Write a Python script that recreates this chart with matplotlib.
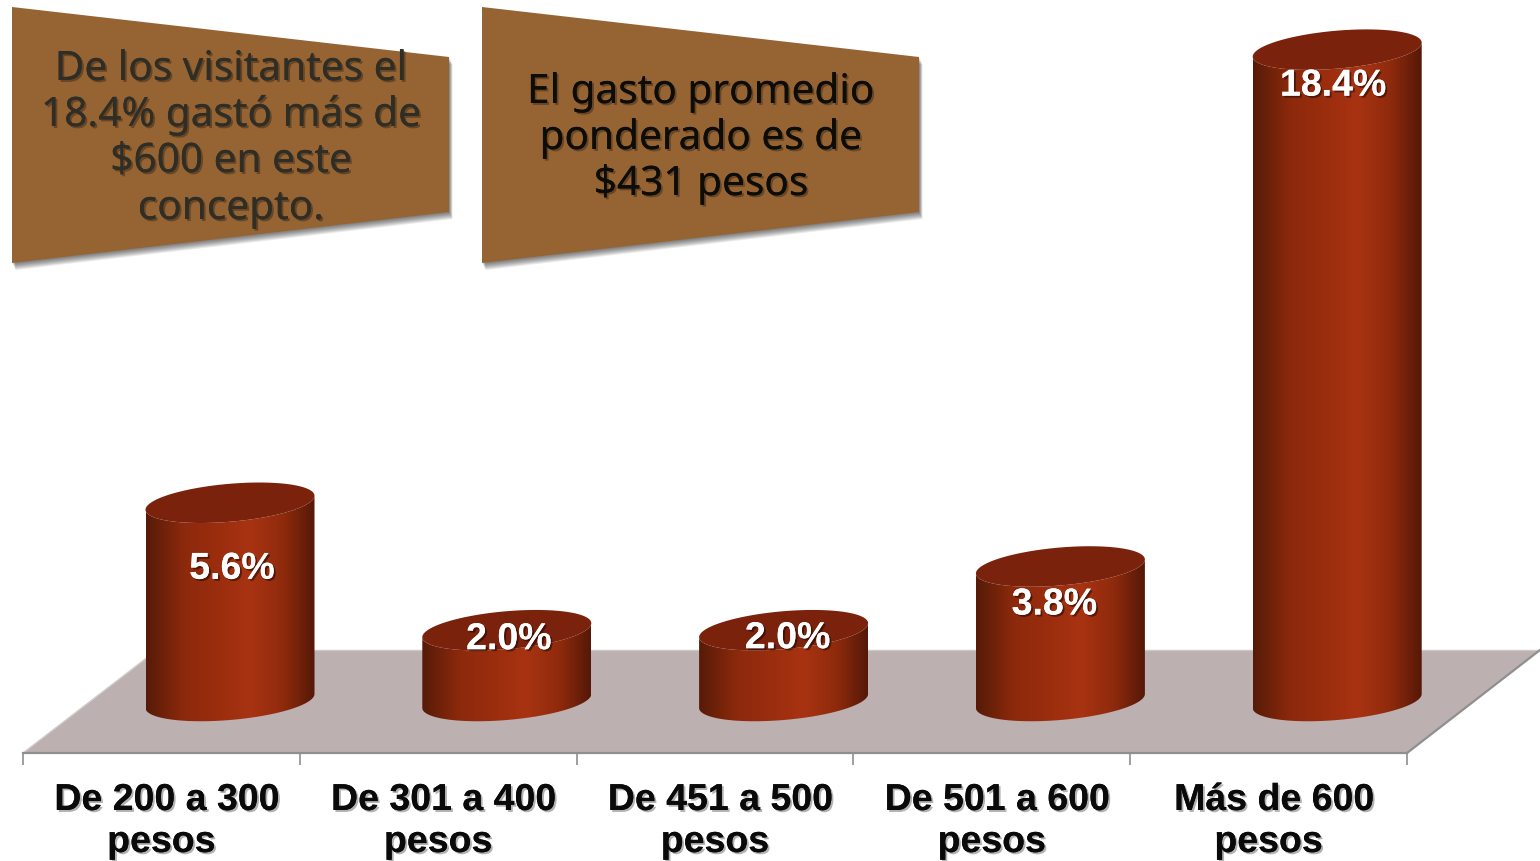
import numpy as np
import matplotlib
matplotlib.use('Agg')
import matplotlib.pyplot as plt
import matplotlib.patheffects as pe
from matplotlib.colors import LinearSegmentedColormap
from matplotlib.patches import Polygon, PathPatch
from matplotlib.path import Path

# --- Data ---
categories = ['De 200 a 300', 'De 301 a 400', 'De 451 a 500', 'De 501 a 600', 'Más de 600']
values = [5.6, 2.0, 2.0, 3.8, 18.4]
value_labels = ['5.6%', '2.0%', '2.0%', '3.8%', '18.4%']
note_left = ['De los visitantes el', '18.4% gastó más de', '$600 en este', 'concepto.']
note_right = ['El gasto promedio', 'ponderado es de', '$431 pesos']

# --- Layout / style ---
W, H = 1540, 861
PX_PER_VALUE = 35.4
ZERO_PX = 701          # pixel row of the centre of the cylinder base
PX_PER_CAT = 276.8
LEFT_PX = 23
BAR_SHIFT = 68.6 / PX_PER_CAT   # 3D offset of cylinders from the tick centre
BAR_A = 84.5 / PX_PER_CAT
BAR_B = 19 / PX_PER_VALUE
BAR_TILT = 7 / PX_PER_VALUE
FRONT = (ZERO_PX - 753) / PX_PER_VALUE
LABEL_DROP = [66, 9, 8, 38, 36]     # px below the cylinder top
LABEL_DX = [2, 2, 4, -6, -4]

PANEL = '#966333'
FLOOR = '#BCB0B0'
EDGE = '#8F8F8F'
CAP = '#7A220C'
bar_cmap = LinearSegmentedColormap.from_list('cyl', [
    (0.0, '#561B08'), (0.22, '#8C290C'), (0.45, '#9C2E0E'), (0.62, '#A83312'),
    (0.82, '#8E2A0C'), (1.0, '#551808')])

plt.rcParams['font.family'] = ['Liberation Sans', 'DejaVu Sans']
fig = plt.figure(figsize=(W / 100, H / 100), dpi=100, facecolor='white')


def px_pt(p):
    return p * 0.72


# --- Background layer, in pixels: floor and note panels ---
bg = fig.add_axes([0, 0, 1, 1], zorder=0)
bg.set_xlim(0, W)
bg.set_ylim(H, 0)
bg.axis('off')
bg.add_patch(Polygon([(23, 753), (157, 650), (1540, 650), (1407, 753)], fc=FLOOR, ec='none'))
bg.plot([157, 1540], [650, 650], color='#CFC8C8', lw=1)
bg.plot([23, 157], [753, 650], color='#D0CCCC', lw=1)
bg.plot([1407, 1540], [753, 650], color=EDGE, lw=1.6)

text_shadow = [pe.withSimplePatchShadow(offset=(1.4, -1.4), shadow_rgbFace='black', alpha=0.3), pe.Normal()]


def note(x0, lines, baselines, centre, color):
    pts = np.array([(x0, 7), (x0 + 437, 57), (x0 + 437, 212), (x0, 263)], dtype=float)
    for k in range(7, 0, -1):
        bg.add_patch(Polygon(pts + (k * 0.5, k), fc='black', ec='none', alpha=0.085))
    bg.add_patch(Polygon(pts, fc=PANEL, ec='none'))
    for line, y in zip(lines, baselines):
        bg.text(centre, y, line, ha='center', va='baseline', color=color, fontsize=29.2,
                family='Noto Sans', path_effects=text_shadow)


note(12, note_left, [80, 126, 172, 219], 231, '#2E2E26')
note(482, note_right, [103, 149, 195], 701, '#0C0C08')

# --- Chart layer ---
ax = fig.add_axes([0, 0, 1, 1], zorder=1)
ax.patch.set_alpha(0)
x_limits = (-0.5 - LEFT_PX / PX_PER_CAT, -0.5 + (W - LEFT_PX) / PX_PER_CAT)
y_limits = ((ZERO_PX - H) / PX_PER_VALUE, ZERO_PX / PX_PER_VALUE)
for name in ['top', 'left', 'right']:
    ax.spines[name].set_visible(False)
ax.spines['bottom'].set_position(('data', FRONT))
ax.spines['bottom'].set_bounds(-0.5, 4.5)
ax.spines['bottom'].set_color(EDGE)
ax.spines['bottom'].set_linewidth(1.6)
ax.set_yticks([])
ax.set_xticks(np.arange(-0.5, 5))
ax.set_xticklabels([])
ax.tick_params(axis='x', length=px_pt(12), width=1.2, color=EDGE, direction='out')


def rim(cx, level, t):
    return cx + BAR_A * np.cos(t), level + BAR_B * np.sin(t) + BAR_TILT * np.cos(t)


lower = np.linspace(np.pi, 2 * np.pi, 60)
whole = np.linspace(0, 2 * np.pi, 120)
label_effects = [pe.withSimplePatchShadow(offset=(1.4, -1.4), shadow_rgbFace='black', alpha=0.45), pe.Normal()]

for i, (val, lab) in enumerate(zip(values, value_labels)):
    cx = i + BAR_SHIFT
    # body: base rim going right, then top rim going back left
    bx, by = rim(cx, 0, lower)
    tx, ty = rim(cx, val, lower[::-1])
    body = np.column_stack([np.r_[bx, tx], np.r_[by, ty]])
    clip = PathPatch(Path(np.vstack([body, body[0]])), fc='none', ec='none', transform=ax.transData)
    ax.add_patch(clip)
    im = ax.imshow(np.linspace(0, 1, 256)[None, :], cmap=bar_cmap, aspect='auto', zorder=2,
                   extent=[cx - BAR_A, cx + BAR_A, -1, val + 1], interpolation='bilinear')
    im.set_clip_path(clip)
    # top cap
    ex, ey = rim(cx, val, whole)
    ax.fill(ex, ey, color=CAP, lw=0, zorder=3)
    ax.annotate(lab, (cx, val), xytext=(px_pt(LABEL_DX[i]), -px_pt(LABEL_DROP[i])),
                textcoords='offset points', ha='center', va='center', color='white',
                fontsize=27, fontweight='bold', zorder=4, path_effects=label_effects)

ax.set_xlim(*x_limits)
ax.set_ylim(*y_limits)

# category labels, two lines each
for i, cat in enumerate(categories):
    ax.annotate(cat, (i, FRONT), xytext=(px_pt(5.5), -px_pt(57)), textcoords='offset points',
                ha='center', va='baseline', fontsize=27, fontweight='bold', color='#0A0A0A',
                annotation_clip=False, path_effects=text_shadow)
    ax.annotate('pesos', (i, FRONT), xytext=(0, -px_pt(99)), textcoords='offset points',
                ha='center', va='baseline', fontsize=27, fontweight='bold', color='#0A0A0A',
                annotation_clip=False, path_effects=text_shadow)

fig.savefig('out.png', dpi=100)
